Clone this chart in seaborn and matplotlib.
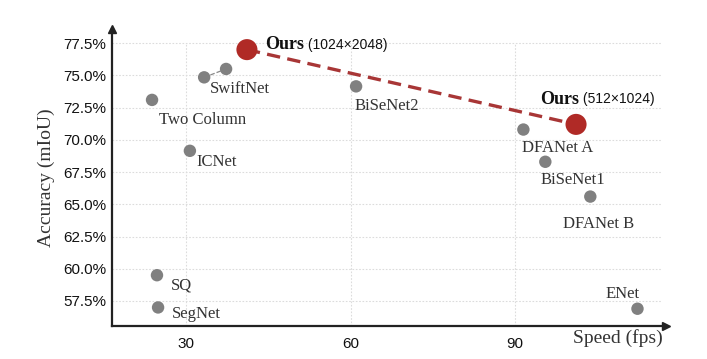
import matplotlib
matplotlib.use("Agg")
import matplotlib.pyplot as plt
import seaborn as sns
import pandas as pd

# Data
names = ["SwiftNet_a", "SwiftNet", "Two Column", "ICNet", "BiSeNet2", "DFANet A",
         "BiSeNet1", "DFANet B", "ENet", "SQ", "SegNet"]
fps = [33.3, 37.3, 23.8, 30.7, 61.0, 91.5, 95.5, 103.7, 112.3, 24.7, 24.9]
miou = [74.85, 75.5, 73.1, 69.15, 74.15, 70.8, 68.3, 65.6, 56.9, 59.5, 57.0]

ours_labels = ["(1024×2048)", "(512×1024)"]
ours_fps = [41.1, 101.1]
ours_miou = [77.0, 71.2]

xticks = [30, 60, 90]
yticks = [57.5, 60.0, 62.5, 65.0, 67.5, 70.0, 72.5, 75.0, 77.5]

# label offsets (pixels): dx, dy
offsets = {
    "SwiftNet": (-16, -20), "Two Column": (7, -20), "ICNet": (7, -11),
    "BiSeNet2": (-2, -20), "DFANet A": (-1, -18), "BiSeNet1": (-5, -18),
    "DFANet B": (-27, -27), "ENet": (-32, 15), "SQ": (14, -10), "SegNet": (14, -7),
}

df = pd.DataFrame({"name": names, "fps": fps, "miou": miou})
dfo = pd.DataFrame({"label": ours_labels, "fps": ours_fps, "miou": ours_miou})

sns.set_style("white")
serif = ["Liberation Serif", "DejaVu Serif"]
sans = ["Liberation Sans", "DejaVu Sans"]

fig = plt.figure(figsize=(7.07, 3.59), dpi=100)
ax = fig.add_axes([112/707, 1-326/359, (666-112)/707, (326-29)/359])

xmin, xmax = 16.5, 117.5
ymin, ymax = 55.56, 78.6
ax.set_xlim(xmin, xmax)
ax.set_ylim(ymin, ymax)

# grid
for xt in xticks:
    ax.plot([xt, xt], [ymin, yticks[-1]], color="#dcdcdc", lw=0.8, ls=(0, (1.5, 1.5)), zorder=0)
for yt in yticks:
    ax.plot([xmin, xmax - 0.8], [yt, yt], color="#dcdcdc", lw=0.8, ls=(0, (1.5, 1.5)), zorder=0)

# SwiftNet connector
ax.plot(fps[0:2], miou[0:2], color="#888888", lw=0.9, ls="--", zorder=1)
# Ours dashed connector
sns.lineplot(data=dfo, x="fps", y="miou", ax=ax, color="#a83636", lw=2.4,
             dashes=False, linestyle=(0, (4, 2.2)), zorder=2, sort=False)

sns.scatterplot(data=df, x="fps", y="miou", ax=ax, color="#808080", s=80,
                edgecolor="none", zorder=3)
sns.scatterplot(data=dfo, x="fps", y="miou", ax=ax, color="#b02a26", s=230,
                edgecolor="none", zorder=4)

for n, x, y in zip(names, fps, miou):
    if n not in offsets:
        continue
    dx, dy = offsets[n]
    ax.annotate(n, (x, y), xytext=(dx, dy), textcoords="offset pixels",
                ha="left", va="center", fontsize=12, family=serif, color="#333333")

# Ours labels
ours_off = [(18, 5), (-36, 25)]
for lab, x, y, (dx, dy) in zip(ours_labels, ours_fps, ours_miou, ours_off):
    t = ax.annotate("Ours", (x, y), xytext=(dx, dy), textcoords="offset pixels",
                    ha="left", va="center", fontsize=13, family=serif,
                    fontweight="bold", color="#111111")
    fig.canvas.draw()
    bb = t.get_window_extent()
    ax.annotate(" " + lab, xy=(bb.x1, (bb.y0 + bb.y1) / 2), xycoords="figure pixels",
                ha="left", va="center", fontsize=10, family=sans, color="#111111")

# axes styling
for s in ["top", "right"]:
    ax.spines[s].set_visible(False)
for s in ["left", "bottom"]:
    ax.spines[s].set_color("#222222")
    ax.spines[s].set_linewidth(1.6)
ax.plot(1, 0, ">", color="#222222", ms=6, transform=ax.transAxes, clip_on=False)
ax.plot(0, 1, "^", color="#222222", ms=6, transform=ax.transAxes, clip_on=False)

ax.set_xticks(xticks)
ax.set_yticks(yticks)
ax.set_xticklabels([str(v) for v in xticks], fontsize=11, family=sans, color="#111111")
ax.set_yticklabels([f"{v:.1f}%" for v in yticks], fontsize=11, family=sans, color="#111111")
ax.tick_params(axis="both", length=0, pad=4)
ax.tick_params(axis="x", pad=8)

ax.set_xlabel("")
ax.set_ylabel("Accuracy (mIoU)", fontsize=14, family=serif, color="#333333", labelpad=6)
fig.text(618/707, 1-338/359, "Speed (fps)", fontsize=14, family=serif, color="#333333",
         ha="center", va="center")

fig.savefig("out.png", dpi=100)
